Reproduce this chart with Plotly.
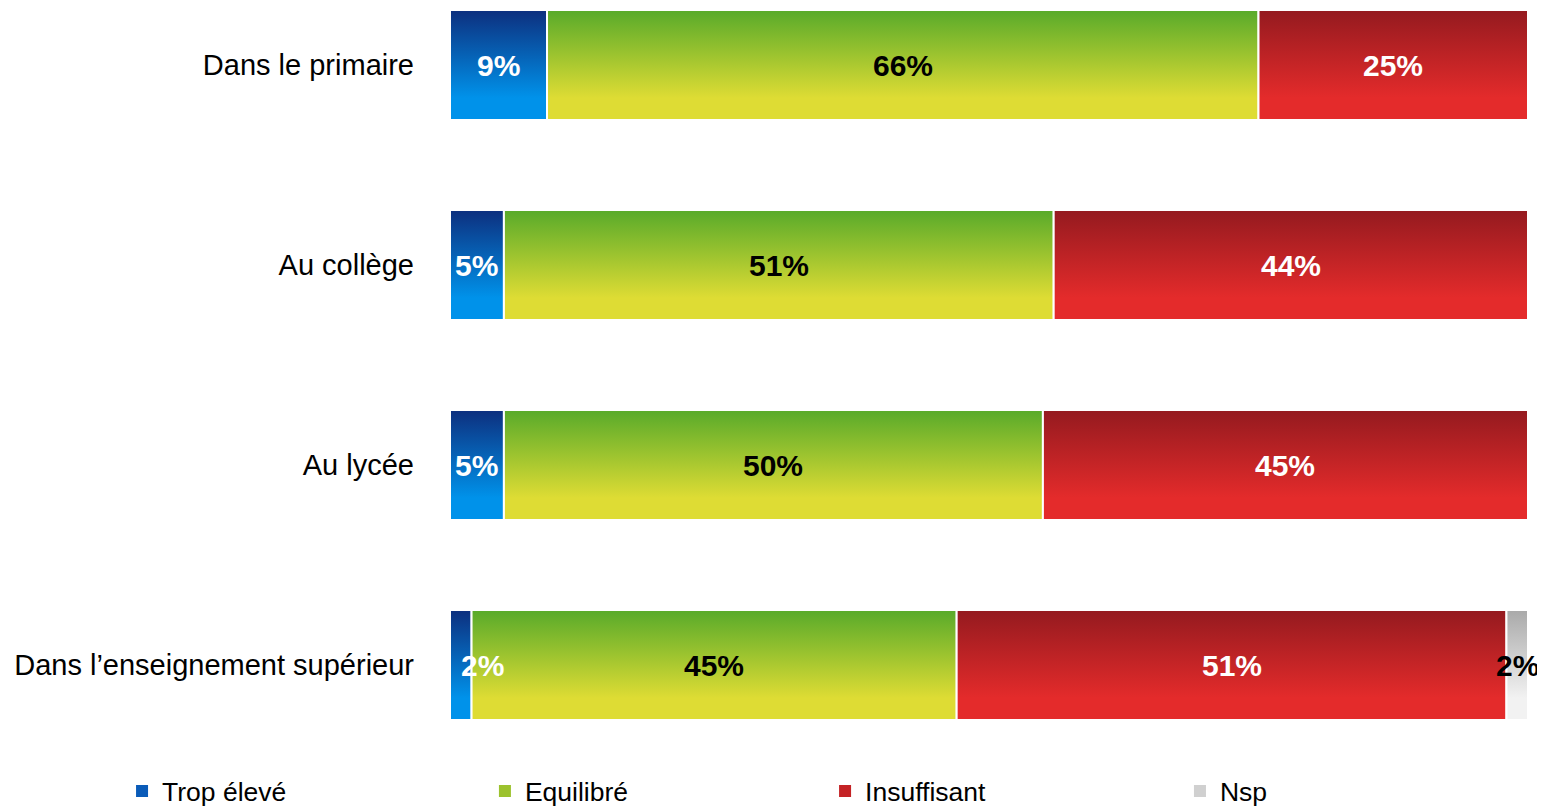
import plotly.graph_objects as go

categories = ["Dans le primaire", "Au collège", "Au lycée", "Dans l\u2019enseignement supérieur"]
series_names = ["Trop élevé", "Equilibré", "Insuffisant", "Nsp"]
trop_eleve = [9, 5, 5, 2]
equilibre = [66, 51, 50, 45]
insuffisant = [25, 44, 45, 51]
nsp = [0, 0, 0, 2]

series_values = [trop_eleve, equilibre, insuffisant, nsp]
top_colors = ["#0D2F7E", "#58AA2A", "#941A1F", "#A9A9A9"]
bottom_colors = ["#0092EA", "#DEDC34", "#E42B2B", "#F2F2F2"]
mid_colors = ["#0A5BB8", "#9CC22E", "#C42225", "#D0D0D0"]
text_colors = ["white", "black", "white", "black"]
legend_x = [0.0742, 0.3103, 0.5316, 0.7625]

bar_h = 0.55
fig = go.Figure()
annotations = []
for ci, cat in enumerate(categories):
    left = 0
    for si, vals in enumerate(series_values):
        v = vals[ci]
        if v <= 0:
            continue
        x0, x1 = left, left + v
        y0, y1 = ci - bar_h / 2, ci + bar_h / 2
        fig.add_trace(go.Scatter(
            x=[x0, x1, x1, x0, x0], y=[y0, y0, y1, y1, y0],
            mode="lines", fill="toself",
            line=dict(color="white", width=2),
            fillgradient=dict(type="vertical", start=y0, stop=y1,
                              colorscale=[[0, top_colors[si]], [0.8, bottom_colors[si]], [1, bottom_colors[si]]]),
            showlegend=False, hoverinfo="skip",
        ))
        annotations.append(dict(
            x=(x0 + x1) / 2, y=ci, xref="x", yref="y", text=f"<b>{v}%</b>",
            showarrow=False, font=dict(family="Liberation Sans, Arial", size=30, color=text_colors[si]),
            xshift=22 if v < 3 and si == 0 else 0,
        ))
        left = x1

legend_layouts = {}
for si, name in enumerate(series_names):
    key = "legend" if si == 0 else f"legend{si + 1}"
    fig.add_trace(go.Bar(x=[None], y=[None], name=name, orientation="h",
                         legend=key, showlegend=True,
                         marker=dict(color=mid_colors[si], line=dict(width=0))))
    legend_layouts[key] = dict(
        orientation="h", xref="container", x=legend_x[si], xanchor="left",
        yref="container", y=0.021, yanchor="middle", bgcolor="rgba(0,0,0,0)",
        font=dict(family="Liberation Sans, Arial", size=26.5, color="black"),
    )

fig.update_layout(
    width=1537, height=800,
    margin=dict(l=442, r=17, t=2, b=68),
    plot_bgcolor="white", paper_bgcolor="white",
    annotations=annotations,
    showlegend=True,
    xaxis=dict(range=[0, 100], visible=False, fixedrange=True),
    yaxis=dict(range=[3.375, -0.275], tickmode="array", tickvals=list(range(len(categories))),
               ticktext=categories, showgrid=False, zeroline=False, showline=False,
               ticks="", ticklabelstandoff=35,
               tickfont=dict(family="Liberation Sans, Arial", size=29, color="black")),
    **legend_layouts,
)

fig.write_html("out.html")
